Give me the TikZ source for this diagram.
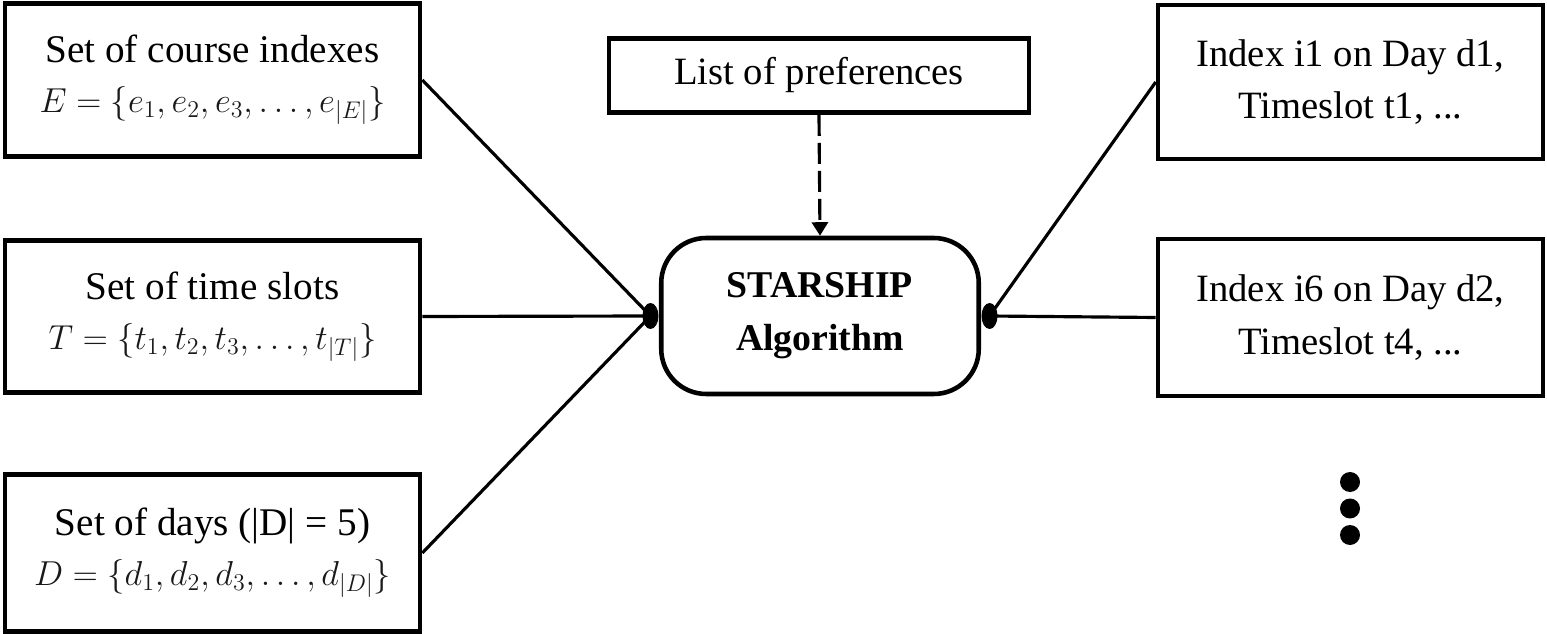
\documentclass[tikz,border=0pt]{standalone}
\usepackage{amsmath}
\usepackage{graphicx}
\usepackage{fontspec}
\setmainfont{Liberation Serif}
\usetikzlibrary{arrows.meta, positioning, shapes.geometric}
\newcommand{\setmath}[1]{\scalebox{0.95}{\fontsize{20.74}{24}\selectfont\color{black!90}$#1$}}

\begin{document}
\begin{tikzpicture}[
      inbox/.style={draw, line width=2.6pt, minimum width=8.3cm, minimum height=3.05cm,
                    align=center, font=\fontsize{22.3}{28.5}\selectfont},
      outbox/.style={draw, line width=2.6pt, minimum width=7.7cm, minimum height=3.08cm,
                     align=center, font=\fontsize{22}{30}\selectfont},
      algbox/.style={draw, line width=2.6pt, rounded corners=0.9cm, minimum width=6.35cm,
                     minimum height=3.12cm, align=center, font=\fontsize{21.5}{30}\selectfont\bfseries},
      link/.style={line width=1.8pt},
      blob/.style={fill, ellipse, inner sep=0pt, minimum width=0.32cm, minimum height=0.52cm}]
    \useasboundingbox (0, 0) rectangle (30.94, -12.68);
    % inputs
    \node[inbox] (course) at (4.25, -1.6)
      {Set of course indexes\\\setmath{E = \{e_1, e_2, e_3, \ldots, e_{|E|}\}}};
    \node[inbox] (slots) at (4.25, -6.33)
      {Set of time slots\\\setmath{T = \{t_1, t_2, t_3, \ldots, t_{|T|}\}}};
    \node[inbox, minimum height=3.15cm] (days) at (4.25, -11.06)
      {Set of days (|D| = 5)\\\setmath{D = \{d_1, d_2, d_3, \ldots, d_{|D|}\}}};
    \node[draw, line width=2.6pt, minimum width=8.4cm, minimum height=1.48cm,
          font=\fontsize{22}{26}\selectfont] (prefs) at (16.38, -1.51) {List of preferences};
    % algorithm
    \node[algbox] (alg) at (16.4, -6.32) {STARSHIP\\Algorithm};
    % outputs
    \node[outbox] (out1) at (27.01, -1.64) {Index i1 on Day d1,\\Timeslot t1, ...};
    \node[outbox, minimum height=3.14cm] (out2) at (27.01, -6.35) {Index i6 on Day d2,\\Timeslot t4, ...};
    \foreach \y [count=\i] in {-9.64, -10.17, -10.7}
      \fill (27.0, \y) circle (0.2) coordinate (more\i);
    % connectors
    \coordinate (jin) at ([xshift=-0.17cm]alg.west);
    \coordinate (jout) at ([xshift=0.17cm]alg.east);
    \draw[link] (course.east) -- (jin);
    \draw[link] (slots.east) -- (jin);
    \draw[link] (days.east) -- (jin);
    \draw[link] (jout) -- (out1.west);
    \draw[link] (jout) -- (out2.west);
    \node[blob] at (jin) {};
    \node[blob] at (jout) {};
    \draw[link, dashed, dash pattern=on 0.42cm off 0.14cm, -{Triangle[length=0.27cm, width=0.32cm]}]
      (prefs.south) -- (alg.north);
  \end{tikzpicture}
\end{document}
